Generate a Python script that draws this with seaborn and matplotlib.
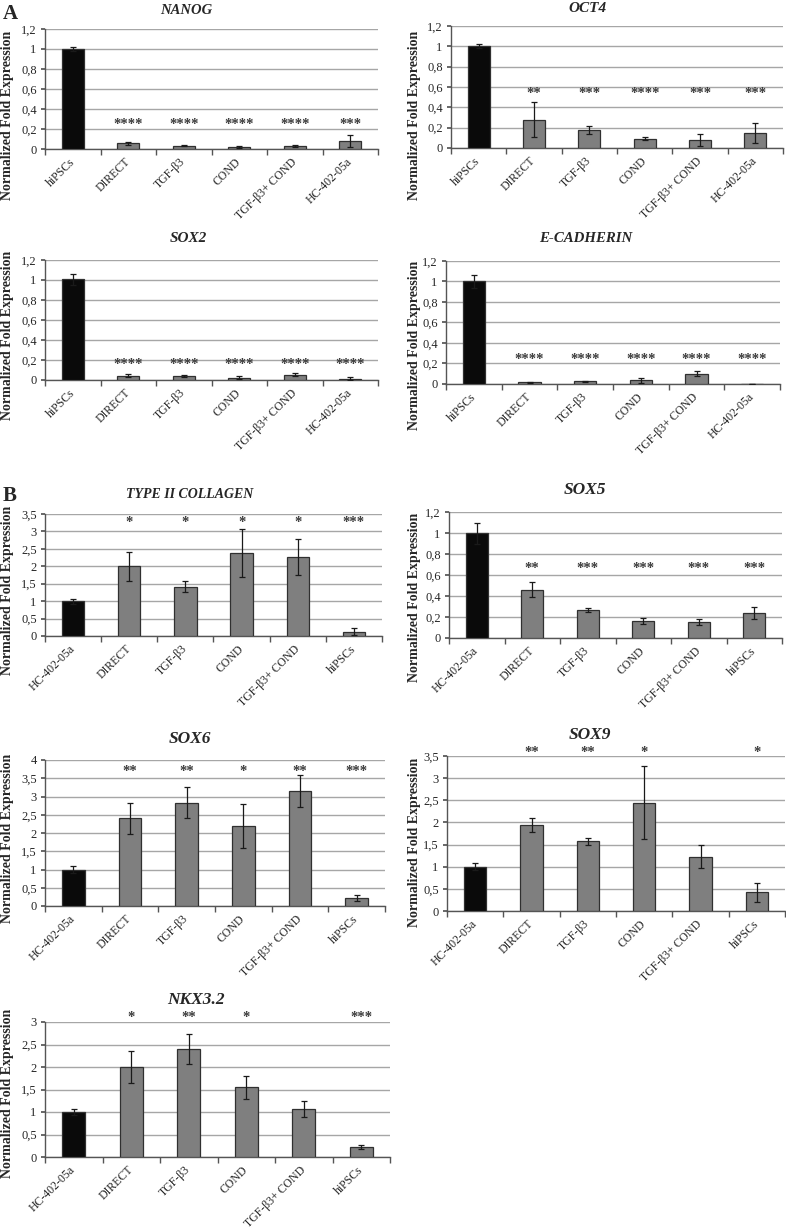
import matplotlib
matplotlib.use("Agg")
import matplotlib.pyplot as plt
import matplotlib.transforms as mtransforms
import seaborn as sns
import numpy as np
from matplotlib.ticker import FuncFormatter, FixedLocator

# ---------------- data ----------------
groups_A = ["hiPSCs", "DIRECT", "TGF-β3", "COND", "TGF-β3+ COND", "HC-402-05a"]
groups_B = ["HC-402-05a", "DIRECT", "TGF-β3", "COND", "TGF-β3+ COND", "hiPSCs"]

nanog_mean = [1.00, 0.06, 0.035, 0.02, 0.03, 0.08]
nanog_err = [0.02, 0.015, 0.003, 0.008, 0.008, 0.06]
nanog_sig = ["", "****", "****", "****", "****", "***"]

oct4_mean = [1.00, 0.28, 0.18, 0.09, 0.08, 0.15]
oct4_err = [0.02, 0.17, 0.04, 0.015, 0.06, 0.10]
oct4_sig = ["", "**", "***", "****", "***", "***"]

sox2_mean = [1.01, 0.045, 0.04, 0.025, 0.055, 0.015]
sox2_err = [0.055, 0.012, 0.01, 0.012, 0.012, 0.012]
sox2_sig = ["", "****", "****", "****", "****", "****"]

ecad_mean = [1.00, 0.018, 0.025, 0.035, 0.10, 0.0]
ecad_err = [0.06, 0.005, 0.005, 0.025, 0.025, 0.0]
ecad_sig = ["", "****", "****", "****", "****", "****"]

col2_mean = [1.00, 2.00, 1.42, 2.38, 2.26, 0.12]
col2_err = [0.07, 0.42, 0.16, 0.70, 0.52, 0.10]
col2_sig = ["", "*", "*", "*", "*", "***"]

sox5_mean = [1.00, 0.46, 0.265, 0.16, 0.15, 0.24]
sox5_err = [0.10, 0.07, 0.02, 0.03, 0.03, 0.06]
sox5_sig = ["", "**", "***", "***", "***", "***"]

sox6_mean = [1.00, 2.40, 2.83, 2.20, 3.15, 0.22]
sox6_err = [0.09, 0.43, 0.42, 0.60, 0.43, 0.08]
sox6_sig = ["", "**", "**", "*", "**", "***"]

sox9_mean = [1.00, 1.94, 1.57, 2.45, 1.22, 0.42]
sox9_err = [0.08, 0.16, 0.08, 0.82, 0.26, 0.22]
sox9_sig = ["", "**", "**", "*", "", "*"]

nkx_mean = [1.00, 2.00, 2.40, 1.55, 1.07, 0.22]
nkx_err = [0.07, 0.36, 0.33, 0.25, 0.18, 0.05]
nkx_sig = ["", "*", "**", "*", "", "***"]

# ---------------- style ----------------
sns.set_theme(style="ticks")
plt.rcParams["font.family"] = ["Liberation Serif", "DejaVu Serif"]

W, H = 786, 1228
fig = plt.figure(figsize=(W / 100, H / 100), dpi=100)

BLACK = "#0a0a0a"
GRAY = "#7f7f7f"
EDGE = "#303030"


def add_panel(cats, mean, err, sig, title, ymax, step, sig_y,
              x0, x1, ytop, ybot, title_xy, ylab_xy, title_size=10.5):
    ax = fig.add_axes([x0 / W, 1 - ybot / H, (x1 - x0) / W, (ybot - ytop) / H])
    palette = {c: (BLACK if i == 0 else GRAY) for i, c in enumerate(cats)}
    sns.barplot(x=cats, y=mean, hue=cats, order=cats, hue_order=cats,
                palette=palette, width=0.4, edgecolor=EDGE, linewidth=0.9,
                legend=False, errorbar=None, ax=ax, zorder=3)
    ax.errorbar(np.arange(len(cats)), mean, yerr=err, fmt="none",
                ecolor="#1a1a1a", elinewidth=0.9, capsize=2.5, capthick=0.9,
                zorder=4)
    for i, s in enumerate(sig):
        if s:
            ax.text(i, sig_y, s, ha="center", va="center", fontsize=10.5,
                    fontweight="bold", color="#3a3a3a", zorder=5, clip_on=False)
    ax.set_xlim(-0.5, len(cats) - 0.5)
    ax.set_ylim(0, ymax)
    ticks = np.arange(0, ymax + step / 2, step)
    ax.yaxis.set_major_locator(FixedLocator(ticks))
    ax.yaxis.set_major_formatter(FuncFormatter(lambda v, p: ("%g" % round(v, 2)).replace(".", ",")))
    ax.grid(axis="y", color="#a6a6a6", lw=1.0)
    ax.set_axisbelow(True)
    for sp in ("top", "right"):
        ax.spines[sp].set_visible(False)
    for sp in ("left", "bottom"):
        ax.spines[sp].set_color("#555555")
        ax.spines[sp].set_linewidth(1.0)
    ax.set_xticks(range(len(cats)))
    ax.set_xticklabels(cats, rotation=45, ha="right", va="center",
                       rotation_mode="anchor", fontsize=8.5)
    off = mtransforms.ScaledTranslation(0.06, 0, fig.dpi_scale_trans)
    for lbl in ax.get_xticklabels():
        lbl.set_transform(lbl.get_transform() + off)
    ax.set_xticks(np.arange(-0.5, len(cats), 1.0), minor=True)
    ax.tick_params(axis="x", which="major", length=0, pad=8)
    ax.tick_params(axis="x", which="minor", length=4, color="#555555", bottom=True)
    ax.tick_params(axis="y", which="major", length=3, color="#555555",
                   labelsize=9, pad=3, left=True)
    ax.set_xlabel("")
    ax.set_ylabel("Normalized Fold Expression", fontweight="bold", fontsize=10)
    lx = (ylab_xy[0] - x0) / (x1 - x0)
    ly = (ybot - ylab_xy[1]) / (ybot - ytop)
    ax.yaxis.set_label_coords(lx, ly)
    fig.text(title_xy[0] / W, 1 - title_xy[1] / H, title, ha="center",
             va="center", fontsize=title_size, fontweight="bold", fontstyle="italic")
    return ax


add_panel(groups_A, nanog_mean, nanog_err, nanog_sig, "NANOG", 1.2, 0.2, 0.245,
          45, 378, 29, 149, (186, 10), (14, 115), 10.5)
add_panel(groups_A, oct4_mean, oct4_err, oct4_sig, "OCT4", 1.2, 0.2, 0.535,
          451, 783, 26, 148, (588, 8), (421, 115), 11)
add_panel(groups_A, sox2_mean, sox2_err, sox2_sig, "SOX2", 1.2, 0.2, 0.155,
          45, 378, 260, 380, (188, 238), (14, 335), 11)
add_panel(groups_A, ecad_mean, ecad_err, ecad_sig, "E-CADHERIN", 1.2, 0.2, 0.24,
          446, 780, 261, 384, (586, 239), (421, 345), 10.7)
add_panel(groups_B, col2_mean, col2_err, col2_sig, "TYPE II COLLAGEN", 3.5, 0.5, 3.25,
          45, 382, 514, 636, (190, 494), (14, 590), 10)
add_panel(groups_B, sox5_mean, sox5_err, sox5_sig, "SOX5", 1.2, 0.2, 0.66,
          449, 782, 512, 638, (585, 490), (421, 597), 12.5)
add_panel(groups_B, sox6_mean, sox6_err, sox6_sig, "SOX6", 4.0, 0.5, 3.68,
          45, 385, 760, 906, (190, 739), (14, 838), 12.5)
add_panel(groups_B, sox9_mean, sox9_err, sox9_sig, "SOX9", 3.5, 0.5, 3.57,
          447, 785, 756, 911, (590, 735), (421, 842), 12.5)
add_panel(groups_B, nkx_mean, nkx_err, nkx_sig, "NKX3.2", 3.0, 0.5, 3.09,
          45, 390, 1022, 1157, (196, 1000), (14, 1093), 12.5)

fig.text(3 / W, 1 - 14 / H, "A", ha="left", va="center", fontsize=15, fontweight="bold")
fig.text(3 / W, 1 - 496 / H, "B", ha="left", va="center", fontsize=15, fontweight="bold")

fig.savefig("out.png", dpi=100, facecolor="white")
